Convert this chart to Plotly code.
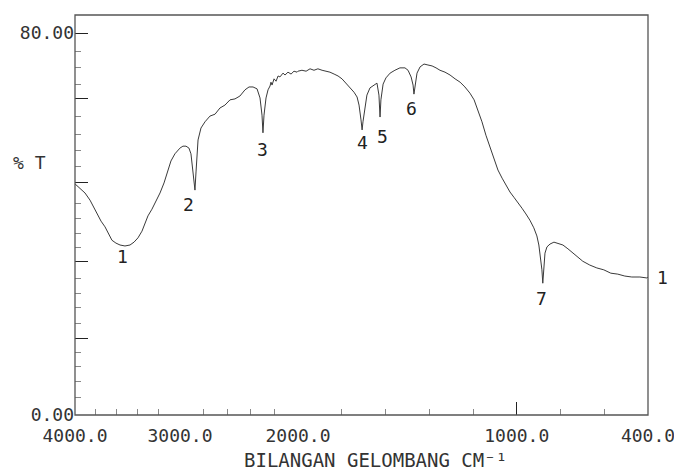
import plotly.graph_objects as go

# ---------------- data (wavenumber cm-1, %T) ----------------
wn_a = [4000, 3990, 3952, 3905, 3857, 3810, 3781, 3752, 3714, 3686, 3648, 3610, 3571, 3524,
        3476, 3438, 3400, 3362, 3333, 3305, 3267, 3229, 3190, 3152, 3114, 3086, 3048, 3010, 3000]
t_a = [48.4, 48.2, 47.5, 46.5, 45.0, 43.1, 41.7, 40.6, 39.4, 38.1, 36.6, 36.0, 35.6, 35.4,
       35.6, 36.2, 37.1, 38.5, 40.0, 41.7, 43.1, 44.8, 46.5, 48.6, 51.5, 53.2, 54.7, 55.7, 55.9]

wn_b = [3000, 2975, 2949, 2924, 2907, 2890, 2873, 2864, 2847, 2822,
        2788, 2746, 2703, 2661, 2619, 2576, 2534, 2492, 2449, 2415,
        2381, 2347, 2322, 2305, 2297, 2288, 2271, 2254, 2237, 2229,
        2220, 2203, 2186, 2169, 2153, 2127, 2110, 2085, 2059, 2034, 2008, 2000]
t_b = [55.9, 56.3, 56.3, 55.9, 54.7, 51.3, 47.1, 50.9, 57.6, 60.1,
       61.4, 62.6, 63.0, 64.3, 64.9, 66.0, 66.2, 66.8, 68.1, 68.7,
       68.7, 68.3, 66.4, 62.8, 59.1, 62.8, 66.4, 68.1, 68.9, 69.7,
       69.1, 70.4, 69.9, 71.0, 70.8, 71.6, 71.2, 71.8, 71.4, 72.0, 71.8, 72.0]

wn_c = [2000, 1982, 1963, 1945, 1927, 1909, 1890, 1872, 1854, 1835,
        1817, 1799, 1781, 1762, 1744, 1730, 1721, 1712, 1707, 1703,
        1694, 1685, 1671, 1653, 1639, 1630, 1625, 1621, 1611, 1598,
        1579, 1557, 1534, 1511, 1497, 1483, 1474, 1470, 1465, 1456,
        1442, 1424, 1406, 1387, 1369, 1351, 1328, 1305, 1282, 1259,
        1237, 1214, 1195, 1177, 1159, 1141, 1122, 1104, 1086, 1067,
        1049, 1031, 1013, 995, 976, 958, 940, 922, 908, 899,
        890, 885, 881, 876, 871, 862, 848, 830, 812, 789,
        766, 743, 721, 698, 666, 634, 602, 570, 538, 506,
        474, 437, 405, 400]
t_c = [72.0, 72.2, 72.0, 72.5, 72.2, 72.5, 72.2, 72.0, 71.8, 71.4,
       71.0, 70.4, 69.5, 68.5, 67.6, 66.6, 64.9, 61.8, 59.7, 61.4,
       64.5, 67.0, 68.5, 69.1, 69.5, 67.0, 62.4, 66.0, 69.3, 70.6,
       71.6, 72.2, 72.7, 72.7, 72.2, 70.8, 69.1, 67.2, 69.1, 71.6,
       72.9, 73.5, 73.3, 73.1, 72.7, 72.2, 71.8, 71.2, 70.4, 69.7,
       68.7, 67.4, 66.0, 63.9, 61.4, 58.6, 55.9, 53.4, 51.3, 49.6,
       48.0, 46.7, 45.6, 44.6, 43.3, 42.1, 40.8, 39.2, 37.5, 35.6,
       32.9, 30.4, 27.6, 31.4, 33.9, 35.2, 35.8, 36.2, 36.0, 35.6,
       34.8, 33.9, 33.1, 32.2, 31.4, 30.8, 30.4, 29.7, 29.5, 29.1,
       28.9, 28.9, 28.7, 28.9]

# peak labels
peak_labels = ["1", "2", "3", "4", "5", "6", "7"]
peak_wn = [3552, 2924, 2305, 1707, 1616, 1479, 889]
peak_t = [33.1, 44.0, 55.5, 57.0, 58.4, 64.1, 24.5]
end_label = "1"
end_t = 28.9

# axis ticks
x_major = [[4000, 3000], [], [2000, 1000, 400]]
x_major_text = [["4000.0", "3000.0"], [], ["2000.0", "1000.0", "400.0"]]
x_minor = [[3800, 3600, 3400, 3200], [2800, 2600, 2400, 2200],
           [1800, 1600, 1400, 1200, 800, 600]]
y_major = [0, 16.1, 32.25, 48.6, 66.2, 80]
y_major_text = ["0.00", "", "", "", "", "80.00"]
y_minor = [3.77, 7.12, 10.26, 13.19, 19.26, 22.41, 25.55, 28.69, 35.18, 38.11, 41.25,
           44.39, 52.14, 55.49, 58.84, 62.61, 69.31, 72.87, 76.22]

x_title = "BILANGAN GELOMBANG CM⁻¹"
y_title = "% T"

# ---------------- figure ----------------
FONT = "DejaVu Sans Mono"
segments = [(4000, 3000, 0.0, 0.1832), (3000, 2000, 0.1832, 0.3892), (2000, 400, 0.3892, 1.0)]
series = [(wn_a, t_a), (wn_b, t_b), (wn_c, t_c)]

fig = go.Figure()
layout = dict(
    width=674, height=470,
    margin=dict(l=75, r=26, t=15, b=55),
    paper_bgcolor="white", plot_bgcolor="white",
    showlegend=False,
    font=dict(family=FONT, size=18, color="#333"),
)

for i, ((hi, lo, d0, d1), (xs, ys)) in enumerate(zip(segments, series)):
    xname = "x" if i == 0 else f"x{i+1}"
    fig.add_trace(go.Scatter(x=xs, y=ys, xaxis=xname, yaxis="y", mode="lines",
                             line=dict(color="#3a3a3a", width=1), hoverinfo="skip"))
    key = "xaxis" if i == 0 else f"xaxis{i+1}"
    layout[key] = dict(
        domain=[d0, d1], range=[hi, lo], anchor="y", automargin=False,
        showgrid=False, zeroline=False, showline=False,
        tickmode="array", tickvals=x_major[i], ticktext=x_major_text[i],
        ticks="inside", ticklen=13, tickcolor="#222", tickwidth=1,
        ticklabelstandoff=8, ticklabeloverflow="allow",
        tickfont=dict(family=FONT, size=18, color="#333"),
        minor=dict(tickmode="array", tickvals=x_minor[i], ticks="inside",
                   ticklen=6, tickcolor="#888", tickwidth=1),
    )

layout["yaxis"] = dict(
    domain=[0, 1], range=[0, 83.77], anchor="x", automargin=False,
    showgrid=False, zeroline=False, showline=False,
    tickmode="array", tickvals=y_major, ticktext=y_major_text,
    ticks="inside", ticklen=13, tickcolor="#222", tickwidth=1,
    ticklabeloverflow="allow",
    tickfont=dict(family=FONT, size=18, color="#333"),
    minor=dict(tickmode="array", tickvals=y_minor, ticks="inside",
               ticklen=6, tickcolor="#888", tickwidth=1),
)

fig.update_layout(**layout)

# frame
fig.add_shape(type="rect", xref="paper", yref="paper", x0=0, x1=1, y0=0, y1=1,
              line=dict(color="#555", width=1.3), layer="above")

# peak labels
for lab, w, t in zip(peak_labels, peak_wn, peak_t):
    xr = "x" if w > 3000 else ("x2" if w > 2000 else "x3")
    fig.add_annotation(x=w, y=t, xref=xr, yref="y", text=lab, showarrow=False,
                       xanchor="center", yanchor="middle",
                       font=dict(family=FONT, size=18, color="#222"))
fig.add_annotation(x=1.012, y=end_t, xref="paper", yref="y", text=end_label,
                   showarrow=False, xanchor="left", yanchor="middle",
                   font=dict(family=FONT, size=18, color="#222"))

# axis titles
fig.add_annotation(x=0.525, y=-0.1125, xref="paper", yref="paper", text=x_title,
                   showarrow=False, xanchor="center", yanchor="middle",
                   font=dict(family=FONT, size=19, color="#333"))
fig.add_annotation(x=-0.08, y=0.6325, xref="paper", yref="paper", text=y_title,
                   showarrow=False, xanchor="center", yanchor="middle",
                   font=dict(family=FONT, size=18, color="#333"))

fig.write_html("out.html")
